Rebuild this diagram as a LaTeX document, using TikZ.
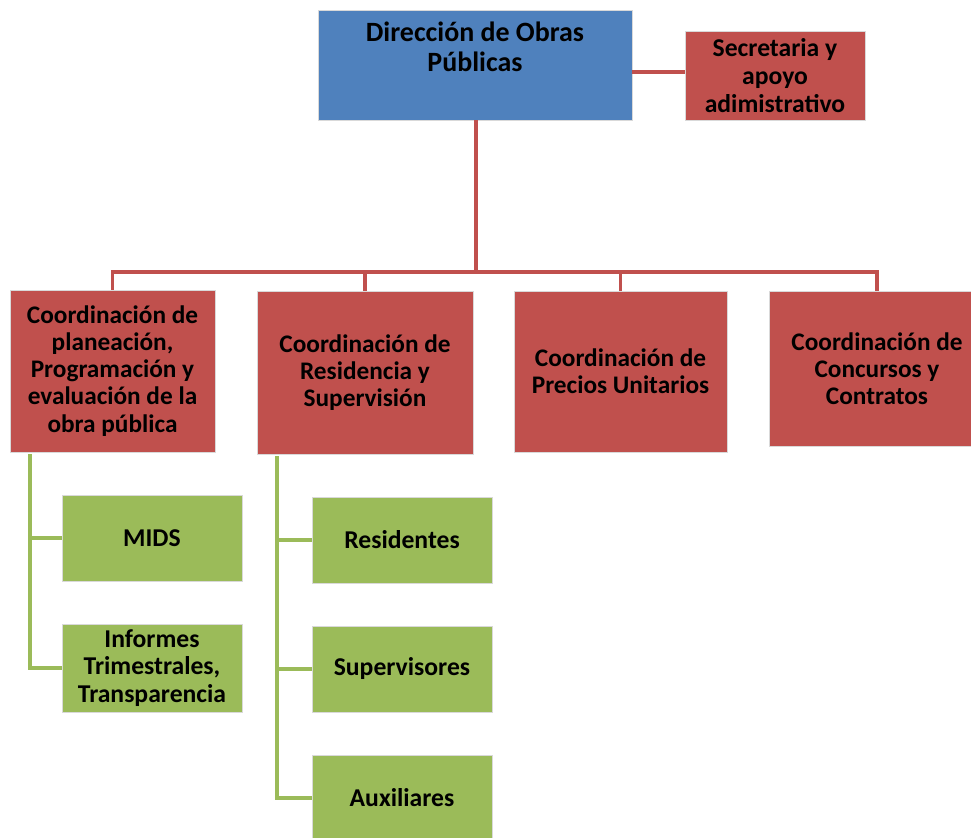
\documentclass[tikz,border=0pt]{standalone}
\usepackage{fontspec}
\setmainfont{Carlito}
\usepackage[dvipsnames]{xcolor}
\definecolor{dirblue}{HTML}{4F81BD}
\definecolor{coordred}{HTML}{C0504D}
\definecolor{subgreen}{HTML}{9BBB59}
\begin{document}
\begin{tikzpicture}[x=0.02cm,y=-0.02cm,thick,
    box/.style={rectangle,draw=white!85!black,line width=0.4pt,inner sep=2pt,align=center,font=\bfseries},
    dir node/.style={box,fill=dirblue,minimum width=6.28cm,minimum height=2.2cm},
    coord node/.style={box,fill=coordred,font=\fontsize{14.4}{15.4}\selectfont\bfseries},
    sub node/.style={box,fill=subgreen,minimum width=3.6cm,minimum height=1.72cm,font=\fontsize{14.6}{15.6}\selectfont\bfseries},
    red line/.style={draw=coordred,line width=2pt},
    green line/.style={draw=subgreen,line width=2pt}]
                \useasboundingbox (0,0) rectangle (971,838);
                \node[dir node] (dir) at (475,65) {};
                \node[anchor=north,align=center,font=\fontsize{15.9}{17}\selectfont\bfseries] (dirtext) at (475,15) {Dirección de Obras\\Públicas};
                \node[coord node,minimum width=3.6cm,minimum height=1.78cm,font=\fontsize{14.6}{15.9}\selectfont\bfseries] (sec) at (775,75.5) {Secretaria y\\apoyo\\adimistrativo};

                \node[coord node,minimum width=4.1cm,minimum height=3.24cm] (c1) at (112.5,371) {Coordinación de\\planeación,\\Programación y\\evaluación de la\\obra pública};
                \node[coord node,minimum width=4.32cm,minimum height=3.26cm] (c2) at (365,372.5) {Coordinación de\\Residencia y\\Supervisión};
                \node[coord node,minimum width=4.26cm,minimum height=3.22cm] (c3) at (620.5,371.5) {Coordinación de\\Precios Unitarios};
                \node[coord node,minimum width=4.32cm,minimum height=3.1cm] (c4) at (877,368.5) {Coordinación de\\Concursos y\\Contratos};

                \node[sub node] (mids) at (152,538) {MIDS};
                \node[sub node,minimum height=1.76cm] (inf) at (152,668) {Informes\\Trimestrales,\\Transparencia};
                \node[sub node] (res) at (402,540) {Residentes};
                \node[sub node,minimum height=1.72cm] (sup) at (402,669) {Supervisores};
                \node[sub node] (aux) at (402,798) {Auxiliares};

                % red connectors
                \coordinate (bus) at (476,272);
                \coordinate (side) at (660,72);
                \draw[red line] (dir.east |- side) -- (sec.west |- side);
                \draw[red line] (dir.south -| bus) -- (bus);
                \foreach \c in {c1,c2,c3,c4}
                    \draw[red line] (bus) -| (\c.north);

                % green connectors
                \coordinate (t1) at (30,454);
                \coordinate (t2) at (277,456);
                \draw[green line] (t1) |- (mids.west);
                \draw[green line] (t1) |- (inf.west);
                \foreach \s in {res,sup,aux}
                    \draw[green line] (t2) |- (\s.west);
            \end{tikzpicture}
\end{document}
